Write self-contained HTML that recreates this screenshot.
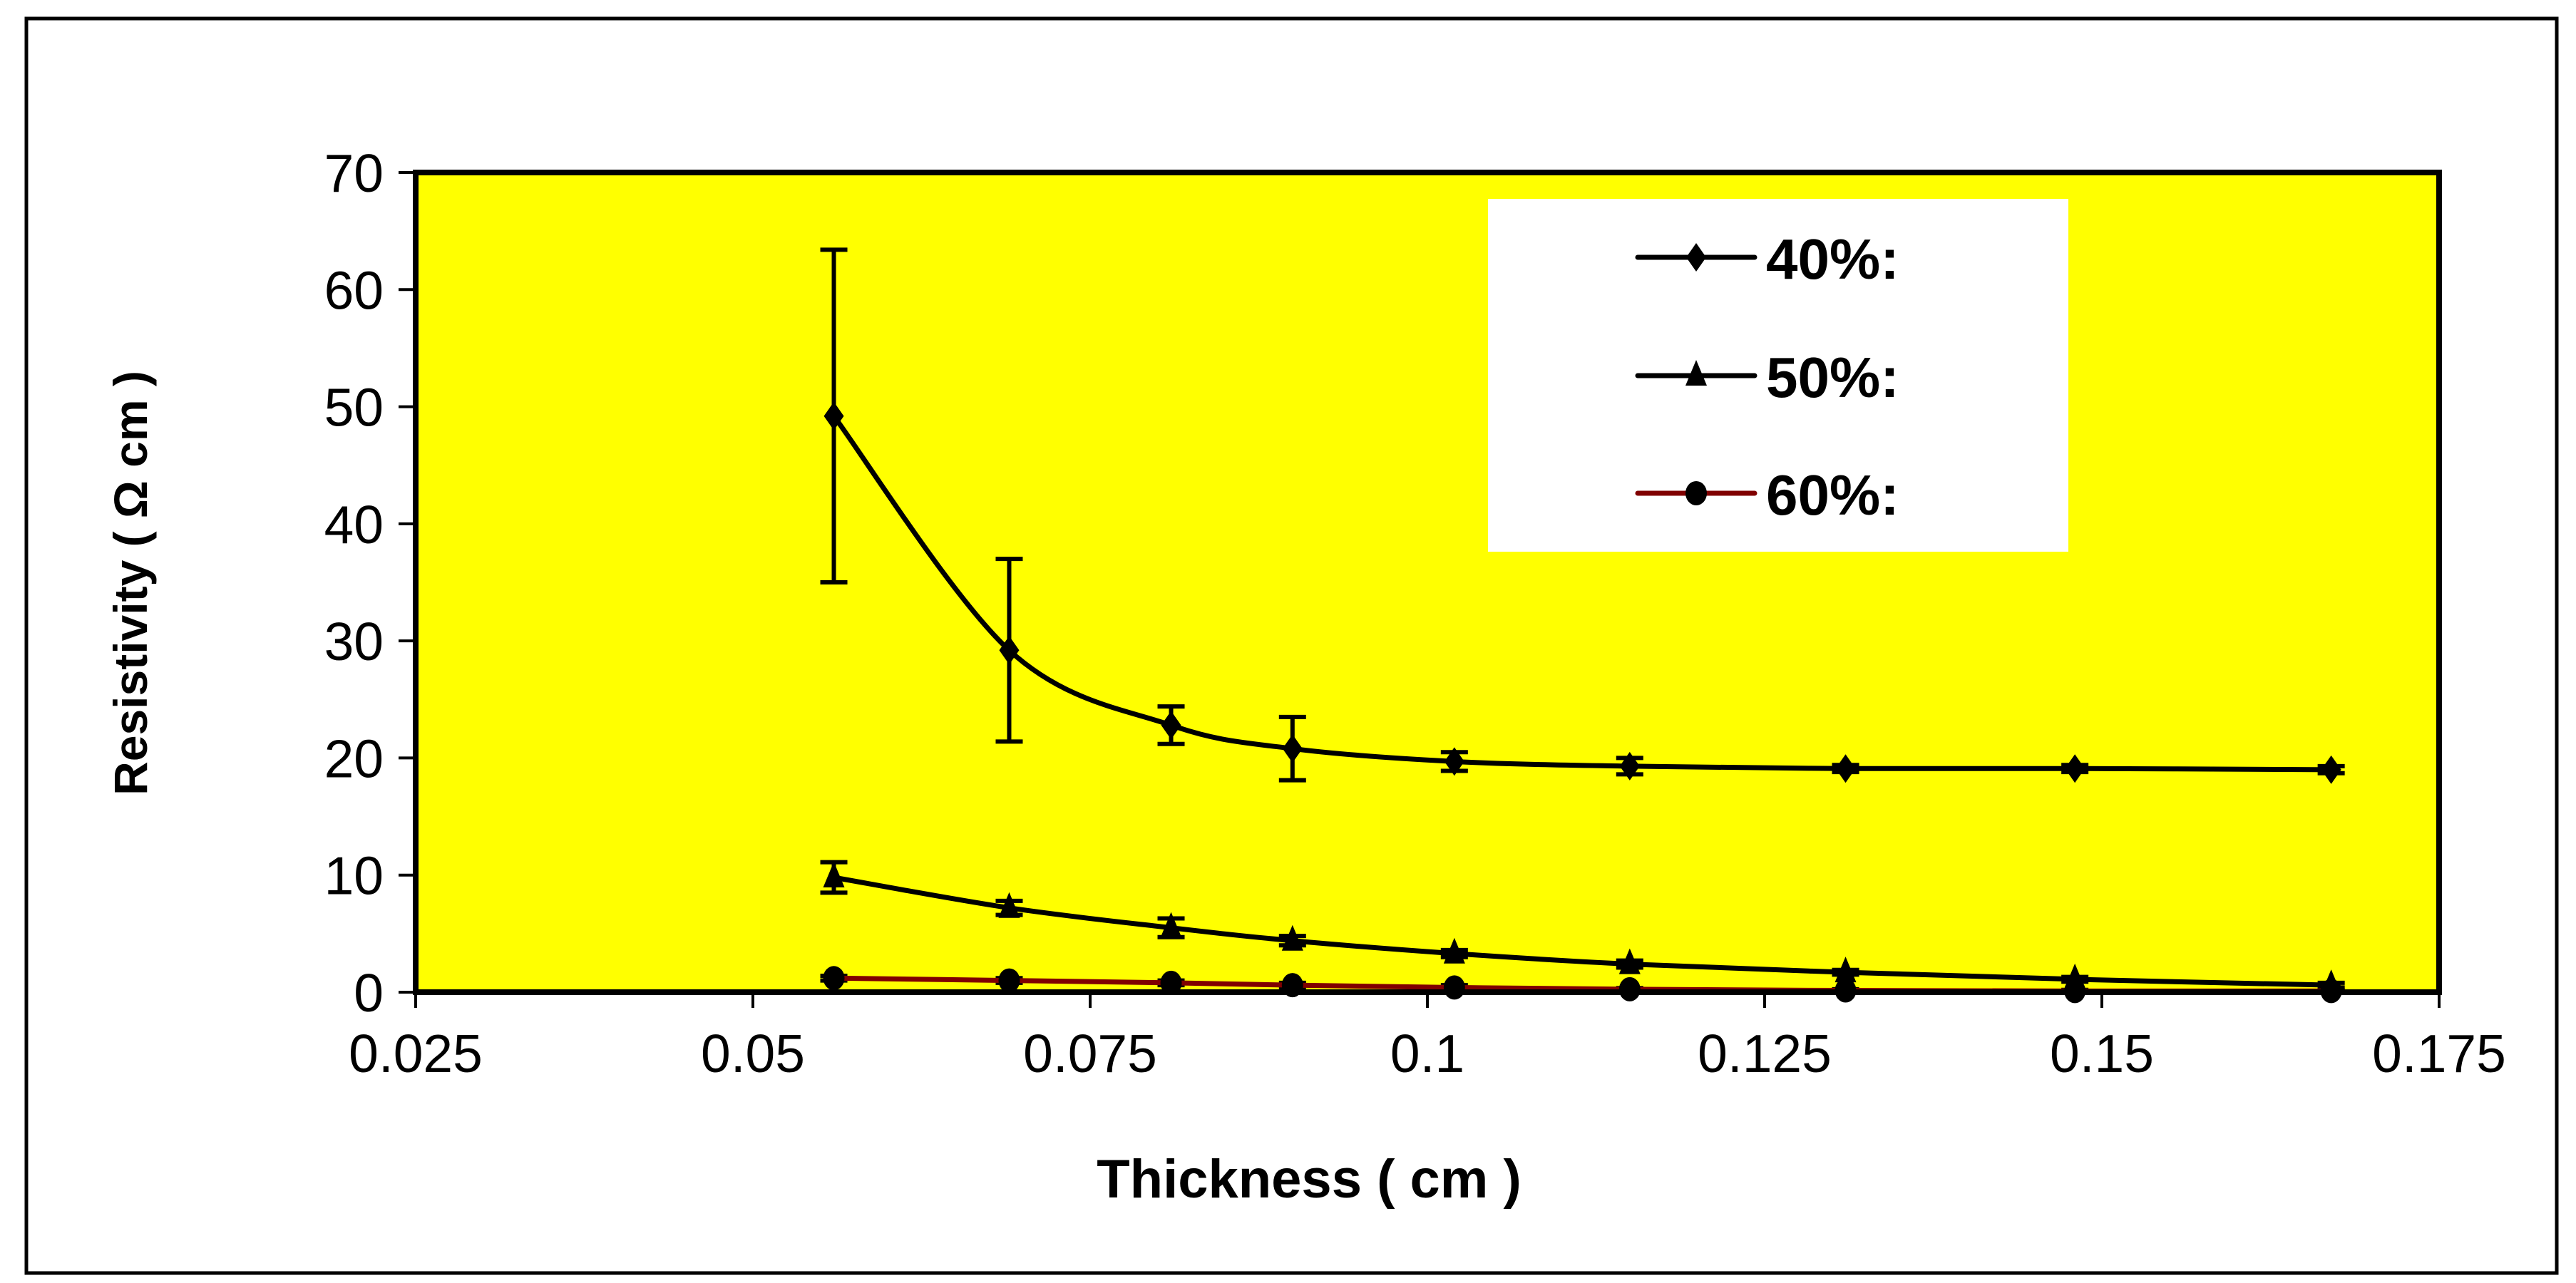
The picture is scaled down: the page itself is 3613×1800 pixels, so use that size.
<!DOCTYPE html>
<html><head><meta charset="utf-8"><style>
html,body{margin:0;padding:0;background:#fff}
svg{display:block;font-family:"Liberation Sans",Arial,sans-serif}
</style></head><body>
<svg id="chart" width="3613" height="1800" viewBox="0 0 3613 1800" xmlns="http://www.w3.org/2000/svg">
<rect x="37" y="26" width="3549" height="1760" fill="#fff" stroke="#000" stroke-width="5"/>
<rect x="583" y="242" width="2838" height="1150" fill="#ffff00"/>
<g id="axes"></g>
<g id="series"></g>
<rect x="583" y="242" width="2838" height="1150" fill="none" stroke="#000" stroke-width="8"/>
<rect x="2087" y="279" width="814" height="495" fill="#fff"/>
<g id="legend"></g>
<text x="1836" y="1680" font-size="76" font-weight="bold" text-anchor="middle">Thickness ( cm )</text>
<text transform="translate(206,818) rotate(-90)" x="0" y="0" font-size="66" font-weight="bold" text-anchor="middle">Resistivity ( Ω cm )</text>
</svg>
<script>
const xValues = [0.056, 0.069, 0.081, 0.090, 0.102, 0.115, 0.131, 0.148, 0.167];
const series40 = [49.2, 29.2, 22.8, 20.8, 19.7, 19.3, 19.1, 19.1, 19.0];
const err40 = [14.2, 7.8, 1.6, 2.7, 0.8, 0.7, 0.3, 0.3, 0.3];
const series50 = [9.8, 7.2, 5.5, 4.4, 3.3, 2.4, 1.7, 1.1, 0.6];
const err50 = [1.3, 0.6, 0.8, 0.4, 0.3, 0.3, 0.2, 0.2, 0.2];
const series60 = [1.2, 1.0, 0.8, 0.6, 0.4, 0.25, 0.15, 0.1, 0.1];
const err60 = [0.2, 0.2, 0.2, 0.2, 0.2, 0.1, 0.1, 0.1, 0.1];
const xTicks = [0.025, 0.05, 0.075, 0.1, 0.125, 0.15, 0.175];
const xTickLabels = ["0.025", "0.05", "0.075", "0.1", "0.125", "0.15", "0.175"];
const yTicks = [0, 10, 20, 30, 40, 50, 60, 70];
const yTickLabels = ["0", "10", "20", "30", "40", "50", "60", "70"];
const legendLabels = ["40%:", "50%:", "60%:"];

const NS = "http://www.w3.org/2000/svg";
const L = 583, R = 3421, T = 242, B = 1392;
function xs(v){ return L + (v - 0.025) / 0.15 * (R - L); }
function ys(v){ return B - v / 70 * (B - T); }
function mk(tag, attrs, parent){
  const e = document.createElementNS(NS, tag);
  for (const k in attrs) e.setAttribute(k, attrs[k]);
  parent.appendChild(e);
  return e;
}
const axes = document.getElementById("axes");
xTicks.forEach((t, i) => {
  const x = xs(t);
  const tk = mk("line", {x1:x, x2:x, y1:B, y2:B+22, stroke:"#000", "stroke-width":4}, axes);
  
  
  const tx = mk("text", {x:x, y:B+112, "font-size":75, "text-anchor":"middle"}, axes);
  tx.textContent = xTickLabels[i];
  
  
});
yTicks.forEach((t, i) => {
  const y = ys(t);
  const tk = mk("line", {x1:L-24, x2:L, y1:y, y2:y, stroke:"#000", "stroke-width":4}, axes);
  
  
  const tx = mk("text", {x:L-45, y:y+27, "font-size":75, "text-anchor":"end"}, axes);
  tx.textContent = yTickLabels[i];
  
  
});

function smoothPath(pts){
  let d = "M" + pts[0][0] + "," + pts[0][1];
  for (let i = 0; i < pts.length - 1; i++){
    const p0 = pts[i-1] || pts[i], p1 = pts[i], p2 = pts[i+1], p3 = pts[i+2] || pts[i+1];
    const t = 6;
    const c1 = [p1[0] + (p2[0]-p0[0])/t, p1[1] + (p2[1]-p0[1])/t];
    const c2 = [p2[0] - (p3[0]-p1[0])/t, p2[1] - (p3[1]-p1[1])/t];
    d += " C" + c1[0] + "," + c1[1] + " " + c2[0] + "," + c2[1] + " " + p2[0] + "," + p2[1];
  }
  return d;
}
function marker(shape, x, y, parent){
  let m;
  if (shape === "diamond") m = mk("polygon", {points:`${x},${y-20} ${x+14},${y} ${x},${y+20} ${x-14},${y}`, fill:"#000"}, parent);
  else if (shape === "triangle") m = mk("polygon", {points:`${x},${y-22} ${x+15},${y+14} ${x-15},${y+14}`, fill:"#000"}, parent);
  else m = mk("ellipse", {cx:x, cy:y, rx:15, ry:17, fill:"#000"}, parent);
  return m;
}
const seriesG = document.getElementById("series");
const defs = [
  {vals:series40, errs:err40, color:"#000", shape:"diamond", name:"series-40"},
  {vals:series50, errs:err50, color:"#000", shape:"triangle", name:"series-50"},
  {vals:series60, errs:err60, color:"#800000", shape:"circle", name:"series-60"}
];
defs.forEach(s => {
  const g = mk("g", {}, seriesG);
  
  
  s.vals.forEach((v, i) => {
    const x = xs(xValues[i]), y1 = ys(v + s.errs[i]), y2 = ys(Math.max(0, v - s.errs[i]));
    const eb = mk("path", {d:`M${x},${y1} V${y2} M${x-19},${y1} H${x+19} M${x-19},${y2} H${x+19}`, stroke:"#000", "stroke-width":6, fill:"none"}, g);
    
    
  });
  const pts = s.vals.map((v, i) => [xs(xValues[i]), ys(v)]);
  const ln = mk("path", {d:smoothPath(pts), stroke:s.color, "stroke-width":7, fill:"none"}, g);
  
  
  pts.forEach(p => {
    const m = marker(s.shape, p[0], p[1], g);
    
    
  });
});
const lg = document.getElementById("legend");
const rowY = [361, 527, 692];
defs.forEach((s, i) => {
  const g = mk("g", {}, lg);
  
  
  mk("line", {x1:2297, x2:2461, y1:rowY[i], y2:rowY[i], stroke:s.color, "stroke-width":7, "stroke-linecap":"round"}, g);
  marker(s.shape, 2379, rowY[i], g);
  const t = mk("text", {x:2477, y:rowY[i]+30, "font-size":80, "font-weight":"bold"}, g);
  t.textContent = legendLabels[i];
});
</script>
</body></html>
